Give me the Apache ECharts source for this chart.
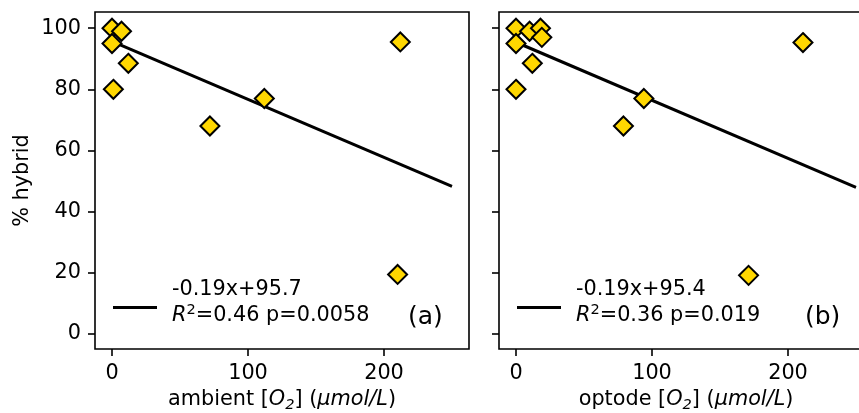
<!DOCTYPE html>
<html>
<head>
<meta charset="utf-8">
<script src="https://cdn.jsdelivr.net/npm/echarts@6/dist/echarts.min.js"></script>
<style>
html,body{margin:0;padding:0;background:#fff;}
#chart{width:859px;height:413px;}
</style>
</head>
<body>
<div id="chart"></div>
<script>
// ---- data ----
var ambientX = [0, 7, 0, 12, 1, 72, 112, 212, 210];
var ambientY = [100, 99, 95, 88.5, 80, 68, 77, 95.5, 19.4];
var optodeX = [0, 10, 18, 19, 0, 12, 0, 79, 94, 211, 171];
var optodeY = [100, 99, 100, 97, 95, 88.5, 80, 68, 77, 95.3, 19.1];
var fitX = [0, 250];
var fitAY = [95.7, 48.2];
var fitBY = [95.4, 47.9];
var yTicks = [0, 20, 40, 60, 80, 100];
var xTicks = [0, 100, 200];
var fitALabel = ['-0.19x+95.7', '=0.46 p=0.0058'];
var fitBLabel = ['-0.19x+95.4', '=0.36 p=0.019'];

function pairs(xs, ys){ return xs.map(function(x,i){ return [x, ys[i]]; }); }

var FS = 20.8;
var FONT = 'DejaVu Sans';
var txt = '#000';
var LW = 1.6;

function xAxisCfg(idx, nameRich){
  return {
    type:'value', gridIndex: idx, min:-12.5, max:262.5, position:'bottom',
    axisLine:{show:false, onZero:false},
    axisTick:{show:true, length:7, lineStyle:{color:'#000', width:LW}, customValues: xTicks},
    axisLabel:{show:true, margin:14, color:txt, fontSize:FS, fontFamily:FONT, customValues: xTicks},
    splitLine:{show:false},
    name: nameRich, nameLocation:'middle', nameGap:37,
    nameTextStyle:{color:txt, fontSize:FS, fontFamily:FONT,
      rich:{
        n:{fontSize:FS, fontFamily:FONT, color:txt},
        i:{fontSize:FS, fontFamily:FONT, fontStyle:'italic', color:txt},
        sub:{fontSize:FS*0.7, fontFamily:FONT, fontStyle:'italic', color:txt, verticalAlign:'bottom', lineHeight:FS*1.3}
      }}
  };
}
function yAxisCfg(idx, showLabel){
  return {
    type:'value', gridIndex: idx, min:-5, max:105.3, position:'left',
    axisLine:{show:false, onZero:false},
    axisTick:{show:true, length:7, lineStyle:{color:'#000', width:LW}, customValues: yTicks},
    axisLabel:{show:showLabel, margin:14, color:txt, fontSize:FS, fontFamily:FONT, customValues: yTicks},
    splitLine:{show:false},
    name: showLabel ? '% hybrid' : '', nameLocation:'middle', nameGap:62,
    nameTextStyle:{color:txt, fontSize:FS, fontFamily:FONT}
  };
}
function legendCfg(name, left, lines){
  return {
    show:true, data:[name], left:left, top:279, padding:0,
    icon:'rect', itemWidth:44, itemHeight:3, itemGap:0,
    selectedMode:false,
    formatter: function(){ return '{g|}{a|' + lines[0] + '}\n{g|}{r|R}{s|2}{a|' + lines[1] + '}\n{e|}'; },
    textStyle:{color:txt, fontSize:FS, fontFamily:FONT,
      rich:{
        g:{width:10, height:10},
        e:{height:10, lineHeight:10, fontSize:4},
        a:{fontSize:FS, fontFamily:FONT, color:txt, lineHeight:26},
        r:{fontSize:FS, fontFamily:FONT, fontStyle:'italic', color:txt, lineHeight:26},
        s:{fontSize:FS*0.7, fontFamily:FONT, color:txt, verticalAlign:'top', lineHeight:26}
      }}
  };
}
var scatterStyle = {color:'#FFD700', borderColor:'#000', borderWidth:2, opacity:1};

var xNameA = '{n|ambient [}{i|O}{sub|2}{n|] (}{i|μmol/L}{n|)}';
var xNameB = '{n|optode [}{i|O}{sub|2}{n|] (}{i|μmol/L}{n|)}';

var option = {
  animation:false,
  backgroundColor:'#fff',
  textStyle:{fontFamily:FONT},
  title:[
    {text:'(a)', left:408, top:305, padding:0, textStyle:{fontSize:25, fontWeight:'normal', color:txt, fontFamily:FONT}},
    {text:'(b)', left:805, top:305, padding:0, textStyle:{fontSize:25, fontWeight:'normal', color:txt, fontFamily:FONT}}
  ],
  grid:[
    {left:95, top:12, width:374, height:337, show:true, borderColor:'#000', borderWidth:LW,
      backgroundColor:'transparent', containLabel:false, outerBoundsMode:'none'},
    {left:499, top:12, width:374, height:337, show:true, borderColor:'#000', borderWidth:LW,
      backgroundColor:'transparent', containLabel:false, outerBoundsMode:'none'}
  ],
  legend:[ legendCfg('fitA', 113, fitALabel), legendCfg('fitB', 517, fitBLabel) ],
  xAxis:[ xAxisCfg(0, xNameA), xAxisCfg(1, xNameB) ],
  yAxis:[ yAxisCfg(0, true), yAxisCfg(1, false) ],
  series:[
    {name:'fitA', type:'line', xAxisIndex:0, yAxisIndex:0, data:pairs(fitX, fitAY), showSymbol:false, symbol:'none',
      lineStyle:{color:'#000', width:3}, itemStyle:{color:'#000'}, z:2},
    {name:'fitB', type:'line', xAxisIndex:1, yAxisIndex:1, data:pairs(fitX, fitBY), showSymbol:false, symbol:'none',
      lineStyle:{color:'#000', width:3}, itemStyle:{color:'#000'}, z:2},
    {name:'ambient', type:'scatter', xAxisIndex:0, yAxisIndex:0, data:pairs(ambientX, ambientY),
      symbol:'diamond', symbolSize:19, itemStyle:scatterStyle, z:3},
    {name:'optode', type:'scatter', xAxisIndex:1, yAxisIndex:1, data:pairs(optodeX, optodeY),
      symbol:'diamond', symbolSize:19, itemStyle:scatterStyle, z:3}
  ]
};
var chart = echarts.init(document.getElementById('chart'), null, {renderer:'canvas'});
chart.setOption(option);
</script>
</body>
</html>
